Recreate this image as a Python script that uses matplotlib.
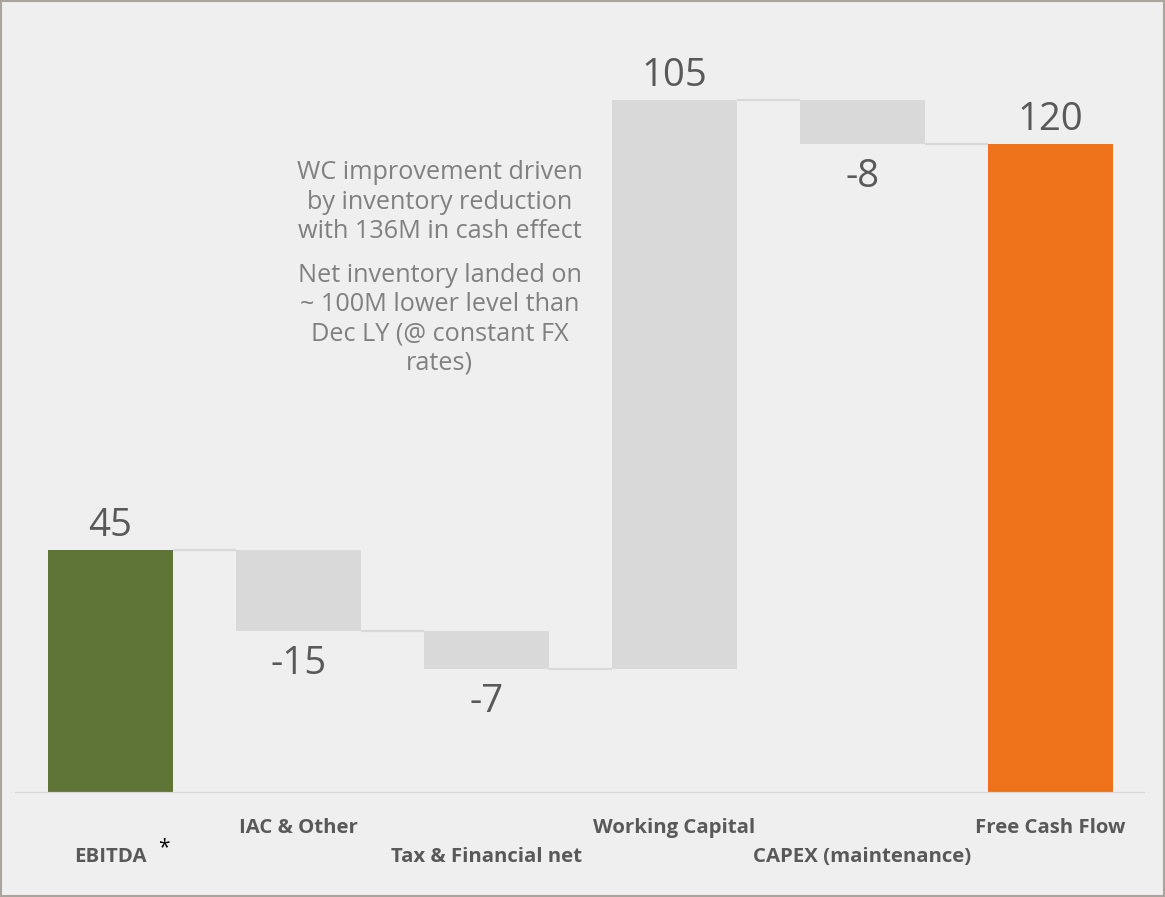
import matplotlib.pyplot as plt
from matplotlib.patches import Rectangle

# Free cash flow bridge
categories = ["EBITDA", "IAC & Other", "Tax & Financial net",
              "Working Capital", "CAPEX (maintenance)", "Free Cash Flow"]
values = [45, -15, -7, 105, -8, 120]
kinds = ["total", "delta", "delta", "delta", "delta", "total"]
label_row = [1, 0, 1, 0, 1, 0]  # staggered category labels

note_1 = "WC improvement driven\nby inventory reduction\nwith 136M in cash effect"
note_2 = "Net inventory landed on\n~ 100M lower level than\nDec LY (@ constant FX\nrates)"

BG = "#EFEFEF"
GREEN = "#5E7537"
ORANGE = "#EE7219"
STEP = "#D9D9D9"
TEXT = "#595959"
NOTE = "#808080"

plt.rcParams["font.family"] = ["Open Sans", "DejaVu Sans"]

fig = plt.figure(figsize=(11.65, 8.97), dpi=100, facecolor=BG)
ax = fig.add_axes([0.0129, 0.1159, 0.97, 0.8506])
ax.set_facecolor(BG)

width = 0.665
bottoms, tops = [], []
running = 0
for v, k in zip(values, kinds):
    if k == "total":
        lo, hi = 0, v
        running = v
    else:
        lo, hi = sorted((running, running + v))
        running += v
    bottoms.append(lo)
    tops.append(hi)

colors = [GREEN, STEP, STEP, STEP, STEP, ORANGE]
xs = list(range(len(values)))
ax.bar(xs, [t - b for t, b in zip(tops, bottoms)], bottom=bottoms,
       width=width, color=colors, zorder=2)

# connectors between consecutive bars at the running level
level = 0
for i, (v, k) in enumerate(zip(values, kinds)):
    level = v if k == "total" else level + v
    if i < len(values) - 1:
        ax.plot([i + width / 2, i + 1 - width / 2], [level, level],
                color=STEP, lw=1.6, zorder=1, solid_capstyle="butt")

# value labels
for i, v in enumerate(values):
    if v >= 0:
        ax.annotate(f"{v}", (i, tops[i]), xytext=(0, 24),
                    textcoords="offset pixels", ha="center", va="center",
                    fontsize=27.5, color=TEXT)
    else:
        ax.annotate(f"{v}", (i, bottoms[i]), xytext=(0, -33),
                    textcoords="offset pixels", ha="center", va="center",
                    fontsize=27.5, color=TEXT)

ax.axhline(0, color="#D6D6D6", lw=1.6, zorder=3)
ax.set_xlim(-0.508, 5.503)
ax.set_ylim(0, 141)
ax.set_xticks([])
ax.set_yticks([])
for s in ax.spines.values():
    s.set_visible(False)

# category labels in two rows below the axis
for i, (name, row) in enumerate(zip(categories, label_row)):
    ax.annotate(name, (i, 0), xytext=(0, -35 if row == 0 else -64),
                textcoords="offset pixels", ha="center", va="center",
                fontsize=14.7, fontweight="bold", color=TEXT)
ax.annotate("*", (0, 0), xytext=(53, -55), textcoords="offset pixels",
            ha="center", va="center", fontsize=15, color="black")

ax.text(1.75, 109.2, note_1, ha="center", va="center", fontsize=18.2,
        color=NOTE, linespacing=1.22)
ax.text(1.75, 87.6, note_2, ha="center", va="center", fontsize=18.2,
        color=NOTE, linespacing=1.22)

fig.add_artist(Rectangle((0.001, 0.001), 0.998, 0.998, transform=fig.transFigure,
                         fill=False, edgecolor="#A9A59D", lw=1.5))

fig.savefig("out.png", dpi=100, facecolor=BG)
